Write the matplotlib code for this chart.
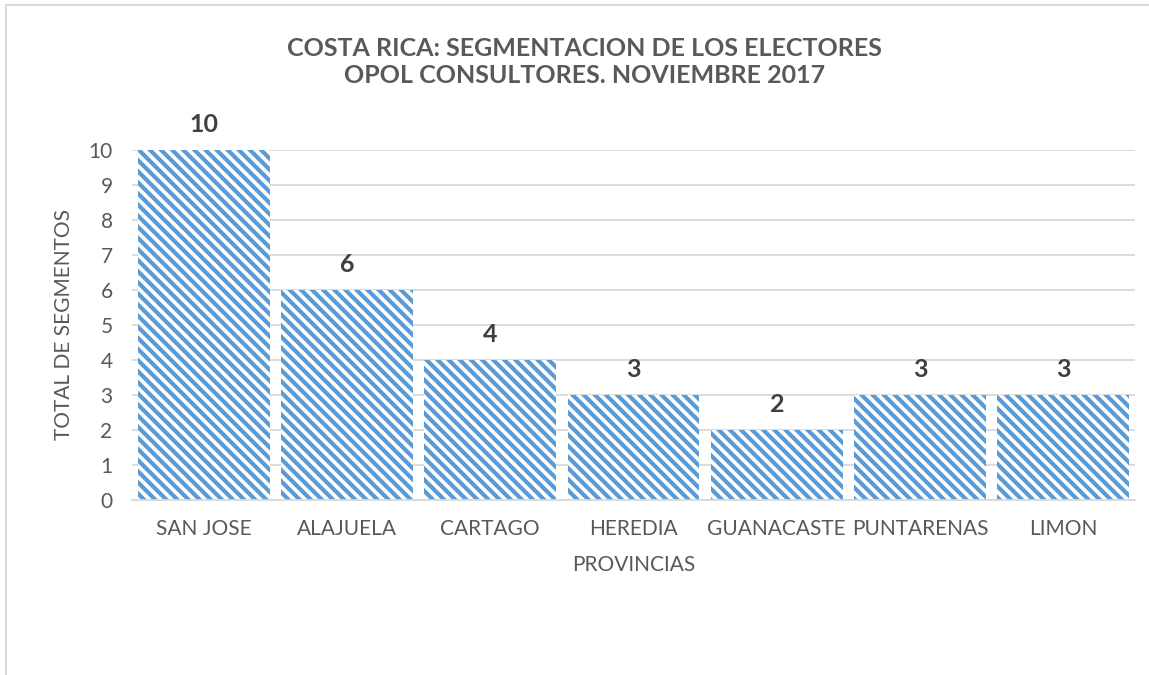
import numpy as np
import matplotlib.pyplot as plt
from matplotlib.patches import Rectangle

# Datos
provincias = ["SAN JOSE", "ALAJUELA", "CARTAGO", "HEREDIA", "GUANACASTE", "PUNTARENAS", "LIMON"]
segmentos = [10, 6, 4, 3, 2, 3, 3]
marcas_y = [0, 1, 2, 3, 4, 5, 6, 7, 8, 9, 10]

titulo = "COSTA RICA: SEGMENTACION DE LOS ELECTORES\nOPOL CONSULTORES. NOVIEMBRE 2017"

gris_texto = "#595959"
azul = "#5B9BD5"
gris_linea = "#D9D9D9"

plt.rcParams['font.family'] = ['Lato', 'DejaVu Sans']
plt.rcParams['hatch.linewidth'] = 3.0

fig = plt.figure(figsize=(11.49, 6.75), dpi=100)
ax = fig.add_axes([132/1149, 1 - 500/675, (1135 - 132)/1149, 350/675])

x = np.arange(len(provincias))
ax.bar(x, segmentos, width=0.92, facecolor="white", edgecolor=azul,
       hatch="\\\\\\", linewidth=0, zorder=2)

# etiquetas de datos
for xi, v in zip(x, segmentos):
    ax.annotate(str(v), (xi, v), xytext=(0, 13), textcoords="offset points",
                ha="center", va="baseline", fontsize=18, fontweight="bold",
                color="#404040")

ax.set_xlim(-0.5, len(provincias) - 0.5)
ax.set_ylim(0, 10)
ax.set_yticks(marcas_y)
ax.set_xticks(x)
ax.set_xticklabels(provincias)
ax.tick_params(axis="both", length=0, labelsize=15, colors=gris_texto)
ax.tick_params(axis="y", pad=14)
ax.tick_params(axis="x", pad=14)

ax.yaxis.grid(True, color=gris_linea, linewidth=1.3, zorder=0)
ax.set_axisbelow(True)
for lado in ["top", "right", "left"]:
    ax.spines[lado].set_visible(False)
ax.spines["bottom"].set_color(gris_linea)
ax.spines["bottom"].set_linewidth(1.3)

ax.set_xlabel("PROVINCIAS", fontsize=15, color=gris_texto, labelpad=11)
ax.set_ylabel("TOTAL DE SEGMENTOS", fontsize=15, color=gris_texto, labelpad=10)

fig.text(0.509, 1 - 62/675, titulo, ha="center", va="center", fontsize=18,
         fontweight="bold", color=gris_texto, linespacing=1.2)

# borde del area del grafico
fig.patches.append(Rectangle((6/1149, -0.1), 1.2, 1.1 - 5/675,
                             transform=fig.transFigure, fill=False,
                             edgecolor=gris_linea, linewidth=1.5))

fig.savefig("out.png", dpi=100)
